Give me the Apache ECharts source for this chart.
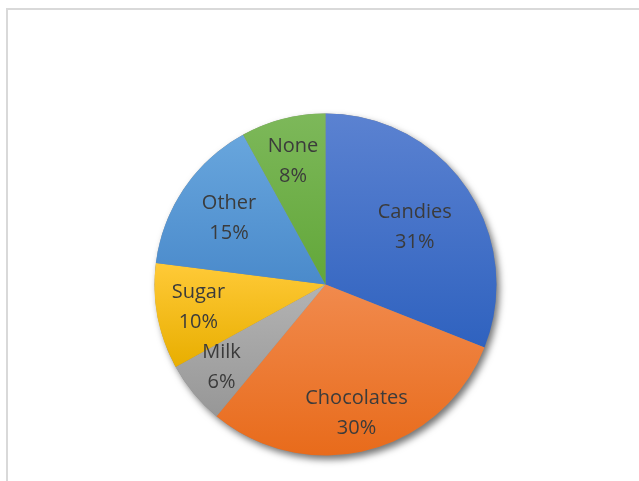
<!DOCTYPE html>
<html><head><meta charset="utf-8">
<script src="https://cdn.jsdelivr.net/npm/echarts@6/dist/echarts.min.js"></script>
<style>html,body{margin:0;padding:0;background:#fff}#c{width:639px;height:481px}</style>
</head><body><div id="c"></div>
<script>
const categories = ['Candies', 'Chocolates', 'Milk', 'Sugar', 'Other', 'None'];
const values = [31, 30, 6, 10, 15, 8];
const topColors = ['#5b82d1', '#f18a4d', '#b3b3b3', '#ffca38', '#68a6dd', '#7db85a'];
const bottomColors = ['#2f62bf', '#e86b1b', '#979797', '#e8ae00', '#4a8acb', '#62a739'];
const labelScale = [1.26, 1.5, 1.54, 1.52, 1.4, 1.52];
const labelNudge = [[-3, 5], [-2, 0], [1, -4], [5, -2], [6, 3], [1, 7]];

const chart = echarts.init(document.getElementById('c'));
const CX = 325.5, CY = 284.5, R = 171;
chart.setOption({
  animation: false,
  graphic: [{
    type: 'rect', z: -10,
    shape: { x: 7, y: 9, width: 700, height: 600 },
    style: { fill: 'none', stroke: '#d9d9d9', lineWidth: 2 }
  }],
  series: [
    {
      type: 'pie', silent: true, z: 1,
      center: [CX, CY], radius: R,
      label: { show: false }, labelLine: { show: false },
      itemStyle: { color: '#888', shadowBlur: 7, shadowOffsetX: 3, shadowOffsetY: 4, shadowColor: 'rgba(0,0,0,0.55)' },
      data: [{ value: 1, name: '' }]
    },
    {
      type: 'pie', z: 2,
      center: [CX, CY], radius: R,
      startAngle: 90, clockwise: true,
      itemStyle: { borderWidth: 0 },
      label: {
        show: true, position: 'inside',
        formatter: '{b}\n{d}%',
        fontFamily: 'Open Sans', fontSize: 20, lineHeight: 30, color: '#3b3b3b'
      },
      labelLine: { show: false },
      labelLayout: function (p) {
        const r = p.labelRect;
        const lx = r.x + r.width / 2, ly = r.y + r.height / 2;
        const k = labelScale[p.dataIndex] - 1;
        const n = labelNudge[p.dataIndex];
        return { dx: (lx - CX) * k + n[0], dy: (ly - CY) * k + n[1] };
      },
      data: categories.map((n, i) => ({
        name: n, value: values[i],
        itemStyle: {
          color: new echarts.graphic.LinearGradient(0, 0, 0, 1, [
            { offset: 0, color: topColors[i] }, { offset: 1, color: bottomColors[i] }
          ])
        }
      }))
    }
  ]
});
</script></body></html>
